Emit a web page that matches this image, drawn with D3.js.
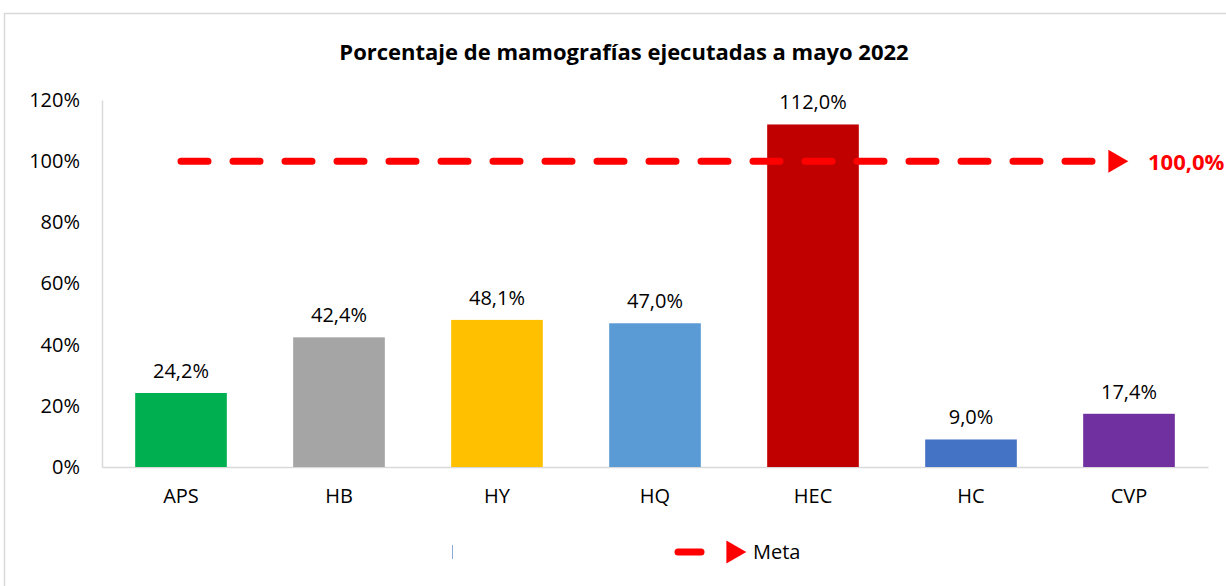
<!DOCTYPE html>
<html>
<head>
<meta charset="utf-8">
<script src="https://cdn.jsdelivr.net/npm/d3@7"></script>
<style>
  body { margin: 0; background: #fff; }
  text { font-family: "Open Sans", "Noto Sans", sans-serif; }
</style>
</head>
<body>
<div id="wrapper"></div>
<script>
let categories = ["APS", "HB", "HY", "HQ", "HEC", "HC", "CVP"];
let values = [24.2, 42.4, 48.1, 47.0, 112.0, 9.0, 17.4];
let colors = ["#00b050", "#a5a5a5", "#ffc000", "#5b9bd5", "#c00000", "#4472c4", "#7030a0"];
let metaValues = [100, 100, 100, 100, 100, 100, 100];
let yTicks = [0, 20, 40, 60, 80, 100, 120];

let dimensions = {
  width: 1226,
  height: 586,
  margin: { top: 100, right: 18, bottom: 119, left: 102 }
};
dimensions.boundedWidth = dimensions.width - dimensions.margin.left - dimensions.margin.right;
dimensions.boundedHeight = dimensions.height - dimensions.margin.top - dimensions.margin.bottom;

const fmt = v => v.toFixed(1).replace(".", ",") + "%";

const wrapper = d3.select("#wrapper")
  .append("svg")
  .attr("width", dimensions.width)
  .attr("height", dimensions.height);

// chart frame
wrapper.append("rect")
  .attr("x", 4.5).attr("y", 13.5)
  .attr("width", 1240).attr("height", 600)
  .attr("fill", "none")
  .attr("stroke", "#d9d9d9")
  .attr("stroke-width", 1.5);

wrapper.append("text")
  .attr("x", 624).attr("y", 60)
  .attr("text-anchor", "middle")
  .attr("font-size", 22)
  .attr("font-weight", "bold")
  .attr("fill", "#000")
  .text("Porcentaje de mamografías ejecutadas a mayo 2022");

const bounds = wrapper.append("g")
  .attr("transform", `translate(${dimensions.margin.left}, ${dimensions.margin.top})`);

const xScale = d3.scaleBand()
  .domain(categories)
  .range([0, dimensions.boundedWidth])
  .paddingInner(0.42)
  .paddingOuter(0.21);

const yScale = d3.scaleLinear()
  .domain([0, 120])
  .range([dimensions.boundedHeight, 0]);

// y axis
const yAxis = bounds.append("g")
  .call(d3.axisLeft(yScale).tickValues(yTicks).tickSize(0).tickPadding(22).tickFormat(d => d + "%"));
yAxis.select(".domain").attr("stroke", "#d9d9d9").attr("stroke-width", 1.5);
yAxis.selectAll("text")
  .attr("font-size", 20)
  .attr("fill", "#000")
  .style("font-family", "'Open Sans', sans-serif");

// x axis
const xAxis = bounds.append("g")
  .attr("transform", `translate(0, ${dimensions.boundedHeight})`)
  .call(d3.axisBottom(xScale).tickSize(0).tickPadding(22));
xAxis.select(".domain").attr("stroke", "#d9d9d9").attr("stroke-width", 1.5);
xAxis.selectAll("text")
  .attr("font-size", 20)
  .attr("fill", "#000")
  .style("font-family", "'Open Sans', sans-serif");

// bars
bounds.selectAll("rect.bar")
  .data(categories)
  .join("rect")
  .attr("class", "bar")
  .attr("x", d => xScale(d))
  .attr("y", (d, i) => yScale(values[i]))
  .attr("width", xScale.bandwidth())
  .attr("height", (d, i) => dimensions.boundedHeight - yScale(values[i]))
  .attr("fill", (d, i) => colors[i]);

bounds.selectAll("text.val")
  .data(categories)
  .join("text")
  .attr("class", "val")
  .attr("x", d => xScale(d) + xScale.bandwidth() / 2)
  .attr("y", (d, i) => yScale(values[i]) - 15)
  .attr("text-anchor", "middle")
  .attr("font-size", 20)
  .attr("fill", "#000")
  .text((d, i) => fmt(values[i]));

// meta line
const cx = d => xScale(d) + xScale.bandwidth() / 2;
const last = categories.length - 1;

bounds.append("path")
  .datum(categories)
  .attr("d", d => {
    const pts = d.map((c, i) => [cx(c), yScale(metaValues[i])]);
    pts[pts.length - 1][0] -= 28;
    return d3.line()(pts);
  })
  .attr("fill", "none")
  .attr("stroke", "#ff0000")
  .attr("stroke-width", 7)
  .attr("stroke-linecap", "round")
  .attr("stroke-dasharray", "27 25");

const triangle = d3.symbol().type(d3.symbolTriangle).size(230);
bounds.append("path")
  .attr("d", triangle())
  .attr("transform", `translate(${cx(categories[last]) - 14}, ${yScale(metaValues[last])}) rotate(90)`)
  .attr("fill", "#ff0000");

bounds.append("text")
  .attr("x", cx(categories[last]) + 19)
  .attr("y", yScale(metaValues[last]) + 9)
  .attr("font-size", 22)
  .attr("font-weight", "bold")
  .attr("fill", "#ff0000")
  .text(fmt(metaValues[last]));

// legend
const legend = wrapper.append("g");
legend.append("line")
  .attr("x1", 452.5).attr("x2", 452.5)
  .attr("y1", 545).attr("y2", 559)
  .attr("stroke", "#8eaadb").attr("stroke-width", 1);
legend.append("line")
  .attr("x1", 678).attr("x2", 701)
  .attr("y1", 552).attr("y2", 552)
  .attr("stroke", "#ff0000").attr("stroke-width", 7)
  .attr("stroke-linecap", "round");
legend.append("path")
  .attr("d", triangle())
  .attr("transform", "translate(733, 552) rotate(90)")
  .attr("fill", "#ff0000");
legend.append("text")
  .attr("x", 753).attr("y", 559)
  .attr("font-size", 20)
  .attr("fill", "#000")
  .text("Meta");
</script>
</body>
</html>
